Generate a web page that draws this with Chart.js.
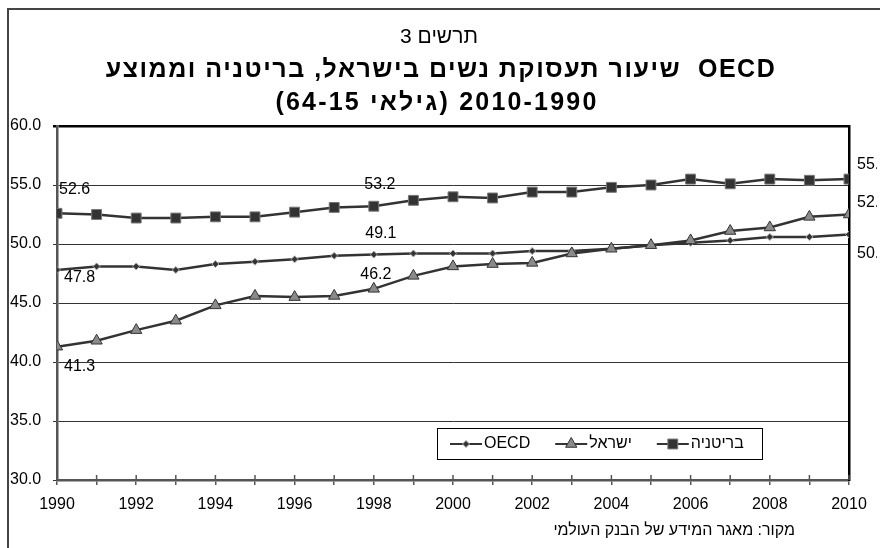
<!DOCTYPE html>
<html><head><meta charset="utf-8">
<script src="https://cdn.jsdelivr.net/npm/chart.js@4/dist/chart.umd.min.js"></script>
<style>html,body{margin:0;padding:0;background:#fff;}</style>
</head><body>
<canvas id="c" width="880" height="548"></canvas>
<script>
// ---- data ----
const years = [1990,1991,1992,1993,1994,1995,1996,1997,1998,1999,2000,2001,2002,2003,2004,2005,2006,2007,2008,2009,2010];
const britain = [52.6,52.5,52.2,52.2,52.3,52.3,52.7,53.1,53.2,53.7,54.0,53.9,54.4,54.4,54.8,55.0,55.5,55.1,55.5,55.4,55.5];
const israel  = [41.3,41.8,42.7,43.5,44.8,45.6,45.5,45.6,46.2,47.3,48.1,48.3,48.4,49.2,49.6,49.9,50.3,51.1,51.4,52.3,52.5];
const oecd    = [47.8,48.1,48.1,47.8,48.3,48.5,48.7,49.0,49.1,49.2,49.2,49.2,49.4,49.4,49.6,49.9,50.1,50.3,50.6,50.6,50.8];
const seriesNames = ['בריטניה','ישראל','OECD'];
const yMin = 30, yMax = 60, yStep = 5;
const titleLine1 = 'תרשים 3';
const titleLine2 = 'שיעור תעסוקת נשים בישראל, בריטניה וממוצע  OECD';
const titleLine3 = '2010-1990 (גילאי 64-15)';
const sourceText = 'מקור: מאגר המידע של הבנק העולמי';

const FONT = '"Liberation Sans", Arial, sans-serif';
Chart.defaults.font.family = FONT;
Chart.defaults.color = '#000';

const toXY = arr => years.map((y,i)=>({x:y, y:arr[i]}));

const labelSpecs = [
  {ds:0, i:0,  dx:2, dy:-24, align:'left'},
  {ds:0, i:8,  dx:6, dy:-22, align:'center'},
  {ds:0, i:20, dx:8, dy:-15, align:'left'},
  {ds:2, i:0,  dx:7, dy:8,   align:'left'},
  {ds:2, i:8,  dx:7, dy:-21, align:'center'},
  {ds:2, i:20, dx:8, dy:19,  align:'left'},
  {ds:1, i:0,  dx:7, dy:20,  align:'left'},
  {ds:1, i:8,  dx:2, dy:-14, align:'center'},
  {ds:1, i:20, dx:8, dy:-12, align:'left'}
];

const framePlugin = {
  id:'frame',
  beforeDraw(chart){
    const c = chart.ctx;
    c.save();
    c.fillStyle='#fff'; c.fillRect(0,0,chart.width,chart.height);
    c.strokeStyle='#444'; c.lineWidth=2;
    c.beginPath(); c.moveTo(8,chart.height+2); c.lineTo(8,9); c.lineTo(chart.width+2,9); c.stroke();
    c.restore();
  }
};

const innerTicks = {
  id:'innerTicks',
  afterDraw(chart){
    const c = chart.ctx, xs = chart.scales.x, a = chart.chartArea;
    c.save(); c.strokeStyle='#555'; c.lineWidth=1.5;
    years.forEach(y=>{
      const px = xs.getPixelForValue(y);
      c.beginPath(); c.moveTo(px,a.bottom); c.lineTo(px,a.bottom-5); c.stroke();
    });
    c.restore();
  }
};

const dataLabels = {
  id:'dataLabels',
  afterDatasetsDraw(chart){
    const c = chart.ctx;
    c.save();
    c.beginPath(); c.rect(0,0,877,chart.height); c.clip();
    c.font = '16px '+FONT; c.fillStyle='#000'; c.textBaseline='middle';
    labelSpecs.forEach(s=>{
      const el = chart.getDatasetMeta(s.ds).data[s.i];
      const v = chart.data.datasets[s.ds].data[s.i].y;
      c.textAlign = s.align;
      c.fillText(v.toFixed(1), el.x+s.dx, el.y+s.dy);
    });
    c.restore();
  }
};

const legendBox = {
  id:'legendBox',
  afterDraw(chart){
    const c = chart.ctx;
    const bx=437, by=428, bw=325, bh=31;
    c.save();
    c.fillStyle='#fff'; c.fillRect(bx,by,bw,bh);
    c.strokeStyle='#000'; c.lineWidth=1; c.strokeRect(bx+0.5,by+0.5,bw,bh);
    c.font='16px '+FONT; c.textBaseline='middle'; c.textAlign='left';
    let x = bx+13; const cy = by+bh/2+0.5;
    [2,1,0].forEach(di=>{
      const ds = chart.data.datasets[di];
      c.strokeStyle=ds.borderColor; c.lineWidth=2;
      c.beginPath(); c.moveTo(x,cy); c.lineTo(x+32,cy); c.stroke();
      c.fillStyle=ds.pointBackgroundColor; c.strokeStyle=ds.pointBorderColor; c.lineWidth=ds.pointBorderWidth;
      Chart.helpers.drawPoint(c,{pointStyle:ds.pointStyle, radius:ds.pointRadius, borderWidth:ds.pointBorderWidth,rotation:0}, x+16, cy);
      c.fillStyle='#000';
      c.fillText(ds.label, x+34, cy);
      x += 34 + c.measureText(ds.label).width + 25;
    });
    c.restore();
  }
};

const texts = {
  id:'texts',
  afterDraw(chart){
    const c = chart.ctx;
    c.save();
    c.fillStyle='#000'; c.textBaseline='middle'; c.textAlign='center';
    c.direction='rtl';
    c.font='21px '+FONT; c.fillText(titleLine1, 439, 37);
    c.font='bold 25px '+FONT;
    c.letterSpacing='1.5px';
    c.fillText('\u2066'+titleLine2+'\u2069', 441, 70);
    c.letterSpacing='2.2px';
    c.fillText(titleLine3, 437, 103);
    c.letterSpacing='0px';
    c.font='16px '+FONT; c.textAlign='right';
    c.fillText(sourceText, 795, 531);
    c.restore();
  }
};

new Chart(document.getElementById('c'), {
  type:'line',
  data:{datasets:[
    {label:seriesNames[0], data:toXY(britain), borderColor:'#333', borderWidth:2.5, pointStyle:'rect', pointRadius:7, pointBackgroundColor:'#333', pointBorderColor:'#777', pointBorderWidth:1},
    {label:seriesNames[1], data:toXY(israel), borderColor:'#333', borderWidth:2.5, pointStyle:'triangle', pointRadius:6.5, pointBackgroundColor:'#8a8a8a', pointBorderColor:'#333', pointBorderWidth:1},
    {label:seriesNames[2], data:toXY(oecd), borderColor:'#333', borderWidth:2.5, pointStyle:'rectRot', pointRadius:3.5, pointBackgroundColor:'#333', pointBorderColor:'#aaa', pointBorderWidth:1}
  ]},
  options:{
    responsive:false, animation:false, devicePixelRatio:1,
    layout:{padding:{left:10,right:31,top:126,bottom:28}},
    plugins:{legend:{display:false}, title:{display:false}, tooltip:{enabled:false}},
    elements:{line:{tension:0}},
    scales:{
      x:{type:'linear', min:years[0], max:years[years.length-1],
        ticks:{stepSize:1, autoSkip:false, maxRotation:0, color:'#000', font:{size:16}, padding:10,
          callback:v=> (v%2===0 ? String(v) : '')},
        grid:{drawOnChartArea:false, drawTicks:true, tickLength:5, color:'#555', lineWidth:1.5},
        border:{color:'#555', width:2.5},
        afterFit(s){s.height=40;}},
      y:{min:yMin, max:yMax,
        ticks:{stepSize:yStep, color:'#000', font:{size:16}, crossAlign:'far', padding:6, callback:v=>v.toFixed(1)},
        grid:{color:c=> c.tick.value===yMax?'#000':'#333', lineWidth:c=> c.tick.value===yMax?2.5:1, tickLength:4, drawTicks:true},
        border:{color:'#555', width:2.5},
        afterFit(s){s.width=47;}},
      y2:{position:'right', min:yMin, max:yMax, ticks:{display:false}, grid:{display:false, drawTicks:false},
        border:{display:true, color:'#000', width:2.5}, afterFit(s){s.width=0;}}
    }
  },
  plugins:[framePlugin, innerTicks, dataLabels, legendBox, texts]
});
</script>
</body></html>
